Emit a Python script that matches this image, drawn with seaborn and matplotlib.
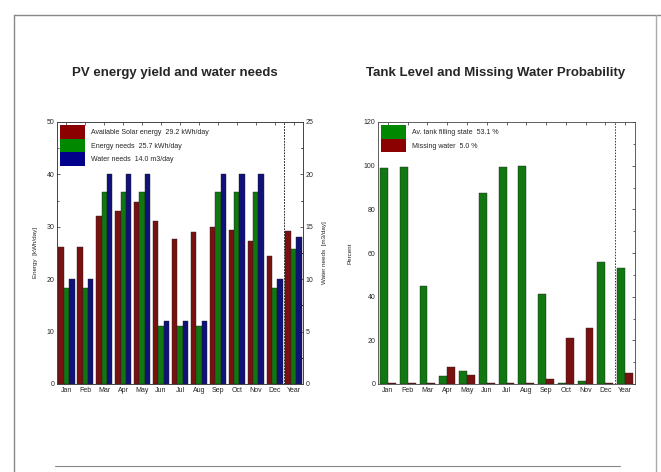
import numpy as np
import pandas as pd
import matplotlib
import matplotlib.pyplot as plt
import seaborn as sns
from matplotlib.patches import Patch
from matplotlib.lines import Line2D
from matplotlib.ticker import MultipleLocator

months = ['Jan', 'Feb', 'Mar', 'Apr', 'May', 'Jun', 'Jul', 'Aug', 'Sep', 'Oct', 'Nov', 'Dec', 'Year']

solar_energy = [26.2, 26.2, 32.1, 33.0, 34.7, 31.2, 27.6, 29.0, 29.9, 29.3, 27.3, 24.5, 29.2]
energy_needs = [18.3, 18.3, 36.7, 36.7, 36.7, 11.0, 11.0, 11.0, 36.7, 36.7, 36.7, 18.3, 25.7]
water_needs = [10.0, 10.0, 20.0, 20.0, 20.0, 6.0, 6.0, 6.0, 20.0, 20.0, 20.0, 10.0, 14.0]

tank_state = [98.8, 99.5, 45.0, 3.5, 6.0, 87.5, 99.5, 100.0, 41.0, 0.3, 1.5, 56.0, 53.1]
missing_water = [0.3, 0.3, 0.3, 8.0, 4.3, 0.3, 0.3, 0.3, 2.3, 21.0, 25.8, 0.3, 5.0]

RED = '#8b0000'
GREEN = '#008800'
BLUE = '#00008b'


def style_axis(ax, fs=5):
    ax.tick_params(which='both', direction='in', top=True, right=True, labelsize=fs,
                   length=2.5, width=0.5, pad=2)
    ax.tick_params(which='minor', length=1.5)
    for s in ax.spines.values():
        s.set_linewidth(0.6)
        s.set_color('#444444')
    ax.axvline(11.5, color='#333333', linestyle=(0, (1.5, 1.5)), linewidth=0.7)
    ax.set_xlim(-0.5, 12.5)


def main():
    sns.set_style('white')
    plt.rcParams['font.family'] = ['Liberation Sans Narrow', 'Liberation Sans', 'DejaVu Sans']

    fig = plt.figure(figsize=(6.61, 4.72), dpi=100)

    # outer frame of the report page
    fig.add_artist(Line2D([14 / 661, 1], [1 - 15 / 472] * 2, color='#888888', lw=1.0))
    fig.add_artist(Line2D([14 / 661] * 2, [0, 1 - 15 / 472], color='#888888', lw=1.0))
    fig.add_artist(Line2D([656 / 661] * 2, [0, 1 - 15 / 472], color='#aaaaaa', lw=1.0))
    fig.add_artist(Line2D([55 / 661, 620 / 661], [1 - 466 / 472] * 2, color='#888888', lw=0.8))

    # left panel: energy and water needs
    energy_keys = ['Available Solar energy', 'Energy needs', 'Water needs']
    df_e = pd.DataFrame({
        'month': months * 2,
        'value': solar_energy + energy_needs,
        'series': ['Available Solar energy'] * 13 + ['Energy needs'] * 13,
    })
    df_w = pd.DataFrame({'month': months, 'value': water_needs, 'series': 'Water needs'})
    pal1 = dict(zip(energy_keys, [RED, GREEN, BLUE]))

    ax1 = fig.add_axes([57 / 661, 1 - 384 / 472, 246 / 661, 262 / 472])
    sns.barplot(data=df_e, x='month', y='value', hue='series', hue_order=energy_keys,
                palette=pal1, width=0.85, dodge=True, edgecolor='#222222', linewidth=0.3,
                legend=False, ax=ax1)
    ax1b = ax1.twinx()
    sns.barplot(data=df_w, x='month', y='value', hue='series', hue_order=energy_keys,
                palette=pal1, width=0.85, dodge=True, edgecolor='#222222', linewidth=0.3,
                legend=False, ax=ax1b)
    ax1.set_ylim(0, 50)
    ax1b.set_ylim(0, 25)
    ax1.yaxis.set_major_locator(MultipleLocator(10))
    ax1.yaxis.set_minor_locator(MultipleLocator(5))
    ax1b.yaxis.set_major_locator(MultipleLocator(5))
    ax1b.yaxis.set_minor_locator(MultipleLocator(2.5))
    style_axis(ax1)
    style_axis(ax1b)
    ax1.tick_params(right=False)
    ax1b.tick_params(which='both', left=False, top=False, right=True, labelright=True)
    ax1.set_xlabel('')
    ax1.set_ylabel('Energy  [kWh/day]', fontsize=4.5, labelpad=6)
    ax1b.set_xlabel('')
    ax1b.set_ylabel('Water needs  [m3/day]', fontsize=4.5, labelpad=6)
    handles = [Patch(facecolor=c, edgecolor='none') for c in [RED, GREEN, BLUE]]
    labels = ['Available Solar energy  29.2 kWh/day', 'Energy needs  25.7 kWh/day',
              'Water needs  14.0 m3/day']
    ax1b.legend(handles, labels, loc='upper left', fontsize=5, frameon=False,
                handlelength=3.6, handleheight=2.6, handletextpad=0.8,
                labelspacing=0.0, borderaxespad=0.3, borderpad=0.2)
    fig.text(175 / 661, 1 - 73 / 472, 'PV energy yield and water needs',
             ha='center', va='center', fontsize=9.5, fontweight='bold')

    # right panel: tank level and missing water
    tank_keys = ['Av. tank filling state', 'Missing water']
    df_t = pd.DataFrame({
        'month': months * 2,
        'value': tank_state + missing_water,
        'series': [tank_keys[0]] * 13 + [tank_keys[1]] * 13,
    })
    ax2 = fig.add_axes([378 / 661, 1 - 384 / 472, 257 / 661, 262 / 472])
    sns.barplot(data=df_t, x='month', y='value', hue='series', hue_order=tank_keys,
                palette=[GREEN, RED], width=0.8, dodge=True, edgecolor='#222222', linewidth=0.3,
                legend=False, ax=ax2)
    ax2.set_ylim(0, 120)
    ax2.yaxis.set_major_locator(MultipleLocator(20))
    ax2.yaxis.set_minor_locator(MultipleLocator(10))
    style_axis(ax2)
    ax2.set_xlabel('')
    ax2.set_ylabel('Percent', fontsize=4.5, labelpad=8)
    handles = [Patch(facecolor=c, edgecolor='none') for c in [GREEN, RED]]
    labels = ['Av. tank filling state  53.1 %', 'Missing water  5.0 %']
    ax2.legend(handles, labels, loc='upper left', fontsize=5, frameon=False,
               handlelength=3.6, handleheight=2.6, handletextpad=0.8,
               labelspacing=0.0, borderaxespad=0.3, borderpad=0.2)
    fig.text(496 / 661, 1 - 73 / 472, 'Tank Level and Missing Water Probability',
             ha='center', va='center', fontsize=9.5, fontweight='bold')

    plt.savefig('out.png', dpi=100)


if __name__ == "__main__":
    main()
